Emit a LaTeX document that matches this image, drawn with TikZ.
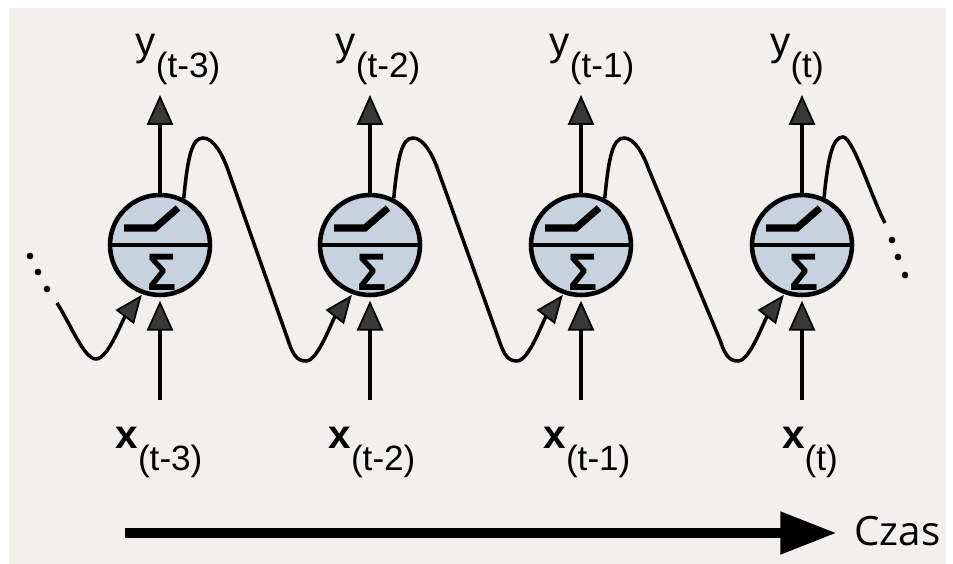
\documentclass[tikz,border=0pt]{standalone}
\usepackage{fontspec}
\setmainfont{Liberation Sans}
\newfontfamily\czasfont{Open Sans}
\usepackage{xcolor}
\usetikzlibrary{arrows.meta}
\usetikzlibrary{calc}

\definecolor{papier}{HTML}{F1F0EC}
\definecolor{neuronfill}{HTML}{C6D3DF}
\definecolor{grot}{HTML}{383838}

\newcommand{\indeks}[1]{\raisebox{-12pt}{\fontsize{20}{22}\selectfont(#1)}}

\tikzset{
  neuron/.style={circle,draw,line width=2.6pt,fill=neuronfill,minimum size=2cm,inner sep=0pt},
  strzalka/.style={line width=2pt,-{Triangle[length=17pt,width=15pt,fill=grot,line width=1pt]}},
  petla/.style={line width=2pt,-{Triangle[length=16pt,width=13pt,fill=grot,line width=1pt]}},
  etykieta/.style={anchor=base,inner sep=0pt,font=\fontsize{23}{26}\selectfont}
}

\begin{document}
\begin{tikzpicture}[x=0.02cm,y=0.02cm]
        \useasboundingbox (0,0) rectangle (953,564);
        \fill[white] (0,0) rectangle (953,564);
        \fill[papier] (9,0) rectangle (946,556);
        % neurony rozwiniete w czasie
        \foreach \i/\x/\etyk/\dy/\dx in {1/160/t-3/18/-1,2/370/t-2/8/2,3/581/t-1/11/6,4/802/t/-5/8} {
            \node[neuron] (n\i) at (\x,319) {};
            \draw[line width=2.2pt] (n\i.west) -- (n\i.east);
            \draw[line width=4pt] ($(n\i)+(-36,17)$) -- ($(n\i)+(-5,17)$) -- ($(n\i)+(18,37)$);
            \node[font=\bfseries\fontsize{25}{27}\selectfont,inner sep=0pt] (s\i) at ($(n\i)+(2,-27)$) {\scalebox{1.1}[1.2]{Σ}};
            \coordinate (y\i) at ($(n\i)+(0,150)$);
            \coordinate (x\i) at ($(n\i)+(0,-155)$);
            \draw[strzalka] (n\i) -- (y\i);
            \draw[strzalka,shorten >=2pt] (x\i) -- (n\i);
            \node[etykieta] (ly\i) at ($(n\i)+(\dy,189)$) {y\indeks{\etyk}};
            \node[etykieta] (lx\i) at ($(n\i)+(\dx,-204)$) {\textbf{x}\indeks{\etyk}};
        }
        % petle zwrotne
        \foreach \a/\b in {1/2,2/3,3/4} {
            \draw[petla] (n\a.63) .. controls +(4,42) and +(-11,0) .. ($(n\a)+(43,107)$)
                .. controls +(10,0) and +(-6,17) .. ($(n\a)+(68,75)$)
                -- ($(n\b)+(-82,-95)$) .. controls +(5,-15) and +(-9,0) .. ($(n\b)+(-64,-116)$)
                .. controls +(12,0) and +(-20,-26) .. ($(n\b)+(250:53)$);
        }
        \draw[petla] ($(n1)+(-103,-58)$) .. controls +(14,-22) and +(-12,0) .. ($(n1)+(-64,-114)$)
            .. controls +(12,0) and +(-20,-26) .. ($(n1)+(250:53)$);
        \draw[line width=2pt] (n4.65) .. controls +(4,42) and +(-10,0) .. ($(n4)+(41,108)$)
            .. controls +(10,0) and +(-12,22) .. ($(n4)+(83,22)$);
        \foreach \px/\py in {-130/-11,-122/-27,-113/-44}
            \fill ($(n1)+(\px,\py)$) circle (1.9pt);
        \foreach \px/\py in {90/5,96/-12,103/-30}
            \fill ($(n4)+(\px,\py)$) circle (1.9pt);
        % os czasu
        \coordinate (czasstart) at (125,31);
        \node[anchor=base west,font=\czasfont\fontsize{23}{26}\selectfont] (czas) at (848,18) {Czas};
        \draw[line width=5.6pt,-{Triangle[length=32pt,width=23pt]},shorten >=6.5pt] (czasstart) -- (czasstart -| czas.west);
    \end{tikzpicture}
\end{document}
